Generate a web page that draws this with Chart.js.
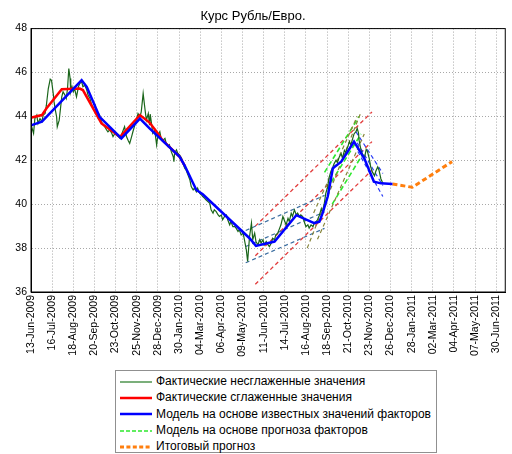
<!DOCTYPE html>
<html>
<head>
<meta charset="utf-8">
<script src="https://cdn.jsdelivr.net/npm/chart.js@4/dist/chart.umd.min.js"></script>
<style>
  body { margin: 0; background: #fff; }
  #wrap { position: relative; width: 512px; height: 454px; }
  #chart { position: absolute; left: 0; top: 0; }
  #legend {
    position: absolute; left: 115px; top: 370px; width: 322px; height: 83px;
    border: 1px solid #909090; box-sizing: border-box; background: #fff;
    font: 12px "Liberation Sans", Arial, sans-serif; color: #000; padding-top: 2px;
  }
  #legend div { height: 16.3px; line-height: 16.3px; white-space: nowrap; }
  #legend svg { vertical-align: middle; margin: 0 4px 0 4px; }
</style>
</head>
<body>
<div id="wrap">
  <canvas id="chart" width="512" height="454"></canvas>
  <div id="legend"></div>
</div>
<script>
// x axis: days from 13-Jun-2009, one tick every 33 days
const xTickLabels = [
    "13-Jun-2009", "16-Jul-2009", "18-Aug-2009", "20-Sep-2009", "23-Oct-2009",
    "25-Nov-2009", "28-Dec-2009", "30-Jan-2010", "04-Mar-2010", "06-Apr-2010",
    "09-May-2010", "11-Jun-2010", "14-Jul-2010", "16-Aug-2010", "18-Sep-2010",
    "21-Oct-2010", "23-Nov-2010", "26-Dec-2010", "28-Jan-2011", "02-Mar-2011",
    "04-Apr-2011", "07-May-2011", "30-Jun-2011"
];
const tickStep = 33;

// actual (raw) values
const rawDays = [
    1, 4, 6, 9, 11, 14, 17, 19, 22, 24, 27, 30, 32, 35, 36, 38, 40, 41, 44, 46,
    48, 50, 53, 55, 57, 59, 61, 62, 64, 66, 68, 71, 74, 76, 79, 81, 84, 87, 89, 92,
    94, 97, 100, 102, 105, 107, 110, 113, 115, 118, 120, 123, 126, 128, 131, 133, 136, 139, 141, 144,
    146, 149, 152, 154, 157, 159, 162, 165, 167, 170, 172, 175, 178, 180, 183, 185, 186, 188, 190, 193,
    196, 198, 201, 203, 206, 209, 211, 214, 216, 219, 222, 223, 224, 227, 229, 232, 235, 237, 240, 242,
    245, 248, 250, 253, 255, 258, 260, 263, 266, 268, 271, 273, 276, 279, 281, 284, 286, 289, 292, 294,
    297, 299, 302, 305, 307, 310, 312, 315, 318, 320, 323, 325, 328, 331, 333, 336, 338, 341, 344, 346,
    349, 351, 354, 357, 359, 362, 364, 367, 370, 372, 375, 377, 380, 382, 385, 388, 390, 393, 395, 398,
    401, 403, 406, 408, 411, 414, 416, 419, 421, 424, 427, 429, 432, 434, 437, 440, 442, 445, 447, 450,
    453, 455, 458, 460, 463, 465, 468, 471, 473, 476, 478, 481, 484, 486, 489, 491, 494, 497, 499, 502,
    504, 507, 509, 511, 512, 515, 517, 520, 523, 525, 528, 530, 533, 536, 538, 541, 543, 546, 549
];
const rawValues = [
    43.53, 43.23, 43.9, 44.06, 43.68, 43.9, 43.76, 44.06, 44.13, 44.51, 45.27, 45.7, 45.65, 44.97, 44.66, 44.29, 43.98, 43.53, 43.83, 44.36,
    44.89, 45.12, 44.97, 44.82, 45.27, 46.18, 45.73, 45.12, 45.35, 45.12, 45.27, 44.89, 45.35, 45.5, 45.58, 45.35, 45.42, 45.2, 44.97, 44.82,
    44.59, 44.36, 44.51, 44.13, 43.9, 44.06, 43.76, 43.6, 43.53, 43.38, 43.3, 43.38, 43.23, 43.08, 43.23, 43.15, 43.08, 43.0, 43.15, 43.38,
    43.53, 43.08, 42.88, 42.77, 43.08, 43.3, 43.6, 43.9, 44.13, 43.98, 44.2, 45.04, 44.29, 43.83, 44.13, 43.6, 44.1, 43.68, 43.23, 43.38,
    42.7, 43.15, 43.3, 43.0, 42.92, 43.0, 42.77, 42.62, 42.7, 42.39, 42.16, 41.94, 42.32, 42.47, 42.32, 42.24, 42.09, 41.86, 41.63, 41.56,
    41.33, 41.1, 40.8, 40.65, 40.73, 40.57, 40.73, 40.5, 40.42, 40.35, 40.27, 40.2, 40.12, 40.04, 39.74, 39.59, 39.74, 39.66, 39.51, 39.44,
    39.51, 39.29, 39.44, 39.51, 39.29, 39.06, 39.21, 38.98, 38.98, 38.91, 38.76, 38.83, 38.6, 38.68, 38.38, 37.92, 37.39, 38.53, 39.14, 38.38,
    38.68, 38.3, 38.15, 38.38, 38.23, 38.38, 38.15, 38.3, 38.15, 38.07, 38.23, 38.45, 38.38, 38.6, 38.68, 38.91, 39.06, 39.44, 39.29, 39.06,
    39.36, 39.21, 39.59, 39.44, 39.74, 39.51, 39.59, 39.44, 39.51, 39.44, 39.14, 38.98, 39.06, 38.91, 39.06, 38.98, 39.14, 39.21, 39.29, 39.5,
    39.8, 39.6, 40.1, 40.5, 40.8, 41.2, 41.5, 41.7, 41.85, 42.0, 41.9, 42.15, 42.3, 42.1, 42.45, 42.35, 42.6, 42.85, 42.7, 43.0,
    43.2, 43.3, 43.45, 43.25, 42.9, 42.45, 42.3, 42.05, 42.5, 42.4, 42.05, 41.7, 41.45, 41.3, 41.5, 41.7, 41.55, 41.15, 40.95
];

// actual smoothed values
const smoothDays = [1, 17, 24, 48, 76, 81, 110, 139, 170, 185, 196, 205, 232, 240];
const smoothValues = [43.95, 44.06, 44.36, 45.24, 45.27, 45.2, 43.68, 43.07, 44.06, 43.72, 43.3, 42.92, 42.16, 41.75];

// model on known factor values
const modelDays = [1, 17, 79, 87, 107, 141, 170, 185, 232, 240, 258, 268, 341, 351, 380, 414, 442, 450, 455, 463, 471, 484, 494, 504, 520, 535, 546, 564];
const modelValues = [43.6, 43.76, 45.65, 45.35, 43.98, 43.0, 43.9, 43.45, 42.16, 41.75, 40.65, 40.45, 38.45, 38.1, 38.3, 39.5, 39.14, 39.2, 39.59, 40.35, 41.64, 41.94, 42.39, 42.85, 42.09, 41.03, 40.95, 40.92];

// final forecast
const forecastDays = [564, 595, 657];
const forecastValues = [40.92, 40.77, 41.94];

// trend bands (start / end)
const steelDays = [335, 458];
const steelUpper = [38.8, 40.4];
const steelMid = [38.07, 39.65];
const steelLower = [37.33, 38.9];

const redBandDays = [350, 532];
const redUpper = [39.0, 44.2];
const redMid = [37.65, 42.85];
const redLower = [36.35, 41.55];

const oliveDays = [[431, 515], [441, 509], [447, 520]];
const oliveValues = [[38.0, 44.2], [39.6, 44.0], [38.4, 43.2]];

const factorDays = [[458, 512], [462, 515], [470, 518]];
const factorValues = [[41.45, 44.0], [40.7, 43.2], [40.0, 42.3]];

const fallDays = [[507, 549], [509, 549], [510, 549]];
const fallValues = [[43.3, 41.4], [42.8, 40.85], [42.4, 40.35]];

function pts(days, vals) {
    return days.map((d, i) => ({ x: d, y: vals[i] }));
}

function line(label, days, vals, color, width, dash) {
    return {
        label: label,
        data: pts(days, vals),
        borderColor: color,
        borderWidth: width,
        borderDash: dash || [],
        pointRadius: 0,
        fill: false,
        tension: 0
    };
}

const datasets = [
    line("Модель на основе известных значений факторов", modelDays, modelValues, "#0000ff", 2.5),
    line("Итоговый прогноз", forecastDays, forecastValues, "#ff7f0e", 3, [5, 3]),
    line("Фактические сглаженные значения", smoothDays, smoothValues, "#ff0000", 2.5),
    line("Фактические несглаженные значения", rawDays, rawValues, "#1a651a", 1.2)
];

oliveDays.forEach((d, i) => datasets.push(line("olive", d, oliveValues[i], "#86853a", 1.2, [4, 3])));
factorDays.forEach((d, i) => datasets.push(line("Модель на основе прогноза факторов", d, factorValues[i], "#2ee82e", 1.6, [5, 3])));
fallDays.forEach((d, i) => datasets.push(line("fall", d, fallValues[i], "#2a3cf5", 1.2, [4, 3])));
datasets.push(line("steel", steelDays, steelUpper, "#3a6da0", 1.2, [4, 3]));
datasets.push(line("steel", steelDays, steelMid, "#3a6da0", 1.2, [4, 3]));
datasets.push(line("steel", steelDays, steelLower, "#3a6da0", 1.2, [4, 3]));
datasets.push(line("redband", redBandDays, redUpper, "#e23c3c", 1.3, [4, 3]));
datasets.push(line("redband", redBandDays, redMid, "#e23c3c", 1.3, [4, 3]));
datasets.push(line("redband", redBandDays, redLower, "#e23c3c", 1.3, [4, 3]));

const boxPlugin = {
    id: "box",
    afterDraw(chart) {
        const { ctx, chartArea: a } = chart;
        ctx.save();
        ctx.strokeStyle = "#000";
        ctx.lineWidth = 1;
        ctx.strokeRect(a.left, a.top, a.right - a.left, a.bottom - a.top);
        ctx.restore();
    }
};

const font = { family: "'Liberation Sans', Arial, sans-serif", size: 10.5 };

new Chart(document.getElementById("chart"), {
    type: "line",
    data: { datasets: datasets },
    plugins: [boxPlugin],
    options: {
        responsive: false,
        animation: false,
        layout: { padding: { left: 0, right: 6, top: 0, bottom: 84 } },
        plugins: {
            legend: { display: false },
            tooltip: { enabled: false },
            title: {
                display: true,
                text: "Курс Рубль/Евро.",
                color: "#000",
                font: { family: font.family, size: 13, weight: "normal" },
                padding: { top: 9, bottom: 4 }
            }
        },
        scales: {
            x: {
                type: "linear",
                min: 0,
                max: 740,
                afterBuildTicks: (scale) => {
                    scale.ticks = xTickLabels.map((_, i) => ({ value: i * tickStep }));
                },
                afterFit: (scale) => { scale.height = 78; },
                ticks: {
                    autoSkip: false,
                    minRotation: 90,
                    maxRotation: 90,
                    padding: 3,
                    color: "#000",
                    font: font,
                    callback: (v) => xTickLabels[Math.round(v / tickStep)]
                },
                grid: { color: "#a8a8a8", drawTicks: false },
                border: { color: "#000", dash: [1, 2] }
            },
            y: {
                min: 36,
                max: 48,
                afterFit: (scale) => { scale.width = 31; },
                ticks: { stepSize: 2, padding: 4, color: "#000", font: font },
                grid: { color: "#a8a8a8", drawTicks: false },
                border: { color: "#000", dash: [1, 2] }
            }
        }
    }
});

// legend rows
const legendItems = [
    ["Фактические несглаженные значения", "#4f944f", 1.5, ""],
    ["Фактические сглаженные значения", "#ff0000", 2.5, ""],
    ["Модель на основе известных значений факторов", "#0000ff", 2.5, ""],
    ["Модель на основе прогноза факторов", "#2ee82e", 1.6, "4 2"],
    ["Итоговый прогноз", "#ff7f0e", 3, "4 2.4"]
];
document.getElementById("legend").innerHTML = legendItems.map(([text, color, w, dash]) =>
    '<div><svg width="32" height="6"><line x1="0" y1="3" x2="32" y2="3" stroke="' + color +
    '" stroke-width="' + w + '"' + (dash ? ' stroke-dasharray="' + dash + '"' : '') +
    '/></svg>' + text + '</div>'
).join("");
</script>
</body>
</html>
